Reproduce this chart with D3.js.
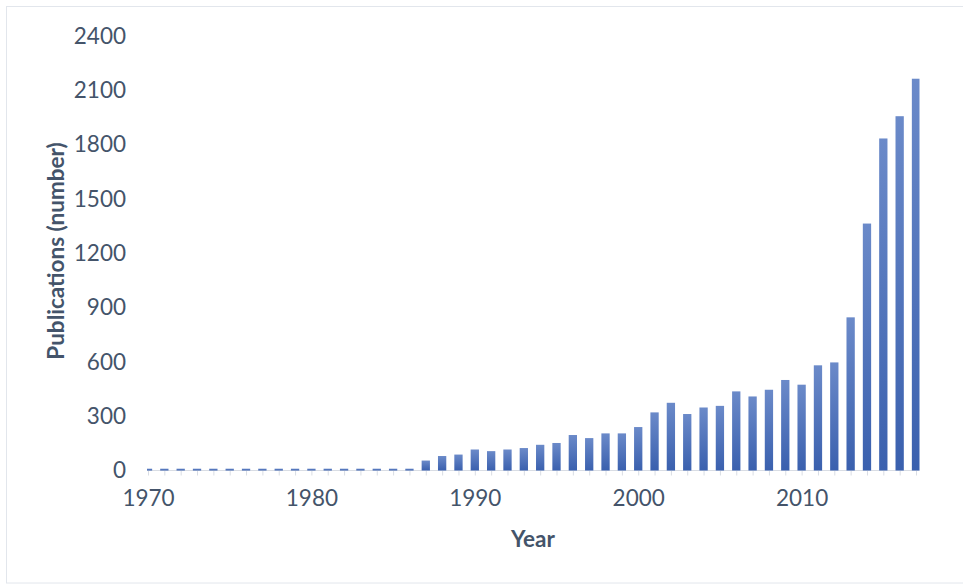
<!DOCTYPE html>
<html>
<head>
<meta charset="utf-8">
<script src="https://cdn.jsdelivr.net/npm/d3@7"></script>
<style>
  html, body { margin: 0; padding: 0; background: #fff; }
  svg { display: block; }
  text { font-family: Lato, "Open Sans", sans-serif; }
</style>
</head>
<body>
<svg id="chart" width="963" height="585"></svg>
<script>
// Publications per year, 1970–2017
const years = d3.range(1970, 2018);
const publications = [
  10, 10, 10, 10, 10, 10, 10, 10, 10, 10,
  10, 10, 10, 10, 10, 10, 10,
  55, 80, 88, 116, 107, 116, 124, 142, 152,
  196, 179, 205, 205, 240, 321, 374, 312, 348, 357,
  437, 409, 446, 500, 474, 581, 597, 846, 1364, 1834,
  1957, 2164
];
const yTicks = [0, 300, 600, 900, 1200, 1500, 1800, 2100, 2400];
const xTickLabels = [1970, 1980, 1990, 2000, 2010];

const svg = d3.select("#chart");
const textColor = "#44546a";
const axisColor = "#d9dde4";
const tickFont = "22.5px";
const titleFont = "22.5px";

// chart frame
svg.append("rect")
  .attr("x", 6.5).attr("y", 6.5)
  .attr("width", 970).attr("height", 576.5)
  .attr("fill", "none").attr("stroke", "#e2e6ec").attr("stroke-width", 1);

const plot = { left: 147, right: 919.5, top: 36, bottom: 470.5 };

const x = d3.scalePoint().domain(years).range([148, 916]);
const y = d3.scaleLinear().domain([0, 2400]).range([plot.bottom, plot.top]);
const barWidth = 8.3;

const defs = svg.append("defs");
const grad = defs.append("linearGradient")
  .attr("id", "barFill").attr("x1", 0).attr("y1", 0).attr("x2", 0).attr("y2", 1);
grad.append("stop").attr("offset", "0%").attr("stop-color", "#6b8ac9");
grad.append("stop").attr("offset", "100%").attr("stop-color", "#3a60ae");

defs.append("clipPath").attr("id", "plotClip")
  .append("rect")
  .attr("x", plot.left).attr("y", 0)
  .attr("width", plot.right - plot.left).attr("height", plot.bottom + 1);

// axis line and ticks at each year
const xAxis = d3.axisBottom(x).tickSize(5).tickFormat("");
const gx = svg.append("g").attr("transform", `translate(0,${plot.bottom})`).call(xAxis);
gx.select(".domain").remove();
gx.selectAll(".tick line").attr("stroke", axisColor);
svg.append("line")
  .attr("x1", plot.left).attr("x2", plot.right)
  .attr("y1", plot.bottom).attr("y2", plot.bottom)
  .attr("stroke", axisColor).attr("stroke-width", 1);

// bars
svg.append("g").attr("clip-path", "url(#plotClip)")
  .selectAll("rect")
  .data(years.map((yr, i) => ({ yr, v: publications[i] })))
  .join("rect")
  .attr("x", d => x(d.yr) - barWidth / 2)
  .attr("width", barWidth)
  .attr("y", d => y(d.v))
  .attr("height", d => y(0) - y(d.v))
  .attr("fill", "url(#barFill)");

// y tick labels
const yAxis = d3.axisLeft(y).tickValues(yTicks).tickFormat(d3.format("d"))
  .tickSize(0).tickPadding(0);
const gy = svg.append("g").attr("transform", "translate(126,0)").call(yAxis);
gy.select(".domain").remove();
gy.selectAll("text")
  .attr("fill", textColor)
  .style("font-size", tickFont)
  .style("font-family", "Lato, 'Open Sans', sans-serif");

// x tick labels
const xLab = d3.axisBottom(x).tickValues(xTickLabels).tickFormat(d3.format("d"))
  .tickSize(0).tickPadding(0);
const gl = svg.append("g").attr("transform", "translate(0,490)").call(xLab);
gl.select(".domain").remove();
gl.selectAll("text")
  .attr("fill", textColor)
  .attr("dy", "0.71em")
  .style("font-size", tickFont)
  .style("font-family", "Lato, 'Open Sans', sans-serif");

// axis titles
svg.append("text")
  .attr("x", 533).attr("y", 547)
  .attr("text-anchor", "middle")
  .attr("fill", textColor)
  .style("font-size", titleFont).style("font-weight", "bold")
  .text("Year");

svg.append("text")
  .attr("transform", "translate(64,251) rotate(-90)")
  .attr("text-anchor", "middle")
  .attr("fill", textColor)
  .style("font-size", titleFont).style("font-weight", "bold")
  .text("Publications (number)");
</script>
</body>
</html>
